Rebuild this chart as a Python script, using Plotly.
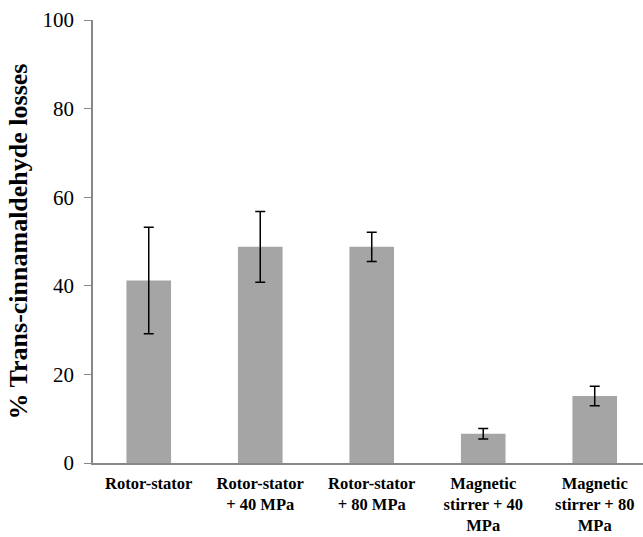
import plotly.graph_objects as go

categories = ["Rotor-stator", "Rotor-stator<br>+ 40 MPa", "Rotor-stator<br>+ 80 MPa",
              "Magnetic<br>stirrer + 40<br>MPa", "Magnetic<br>stirrer + 80<br>MPa"]
losses = [41.2, 48.8, 48.8, 6.6, 15.1]
errors = [12.0, 8.0, 3.3, 1.2, 2.2]
y_ticks = [0, 20, 40, 60, 80, 100]

fig = go.Figure()
fig.add_trace(go.Bar(
    x=list(range(len(categories))), y=losses, width=0.4,
    marker=dict(color="#a5a5a5", line=dict(width=0)),
    error_y=dict(type="data", array=errors, visible=True, color="black", thickness=1.5, width=5),
))
fig.update_layout(
    width=643, height=537, plot_bgcolor="white", paper_bgcolor="white",
    margin=dict(l=93, r=0, t=20, b=74), showlegend=False,
    font=dict(family="Liberation Serif", color="black"),
    xaxis=dict(tickmode="array", tickvals=list(range(len(categories))), ticktext=["<b>%s</b>" % c for c in categories],
               range=[-0.5, 4.433], showline=True, linecolor="#888888", linewidth=1.5,
               ticks="", showgrid=False, zeroline=False, ticklabelstandoff=4, automargin=False,
               tickfont=dict(family="Liberation Serif", size=16.5, color="black")),
    yaxis=dict(range=[0, 100], tickvals=y_ticks, showline=True, linecolor="#888888", linewidth=1.5,
               ticks="outside", ticklen=7, tickcolor="#888888", showgrid=False, zeroline=False,
               ticklabelstandoff=6, automargin=False,
               tickfont=dict(family="Liberation Serif", size=21, color="black"),
               title=dict(text="<b>% Trans-cinnamaldehyde losses</b>", standoff=7,
                          font=dict(family="Liberation Serif", size=26, color="black"))),
)
fig.write_html("out.html")
